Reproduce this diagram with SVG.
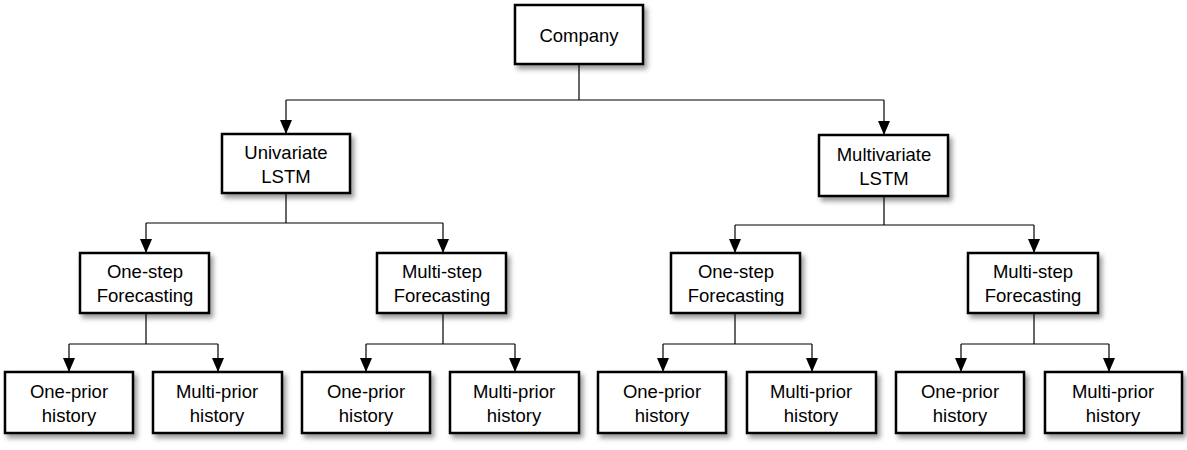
<svg xmlns="http://www.w3.org/2000/svg" width="1187" height="450" viewBox="0 0 1187 450">
<defs>
<filter id="sh" x="-20%" y="-20%" width="140%" height="150%">
<feDropShadow dx="3" dy="4" stdDeviation="2.5" flood-color="#000" flood-opacity="0.4"/>
</filter>
<marker id="ar" viewBox="0 0 14 12" refX="14" refY="6" markerWidth="14" markerHeight="12" markerUnits="userSpaceOnUse" orient="auto">
<path d="M0,0 L14,6 L0,12 Z" fill="#000"/>
</marker>
</defs>
<style>
.box{fill:#fff;stroke:#000;stroke-width:2.5;filter:url(#sh)}
.t{font-family:"Liberation Sans",Arial,sans-serif;font-size:18.5px;fill:#000;text-anchor:middle}
.c{fill:none;stroke:#000;stroke-width:1.2}
.a{fill:none;stroke:#000;stroke-width:1.2;marker-end:url(#ar)}
</style>
<g id="connectors">
<path class="c" d="M579,64 V100 M286,100 H884"/>
<path class="a" d="M286,100 V134"/>
<path class="a" d="M884,100 V135"/>
<path class="c" d="M286,193 V223 M146,223 H443"/>
<path class="a" d="M146,223 V253"/>
<path class="a" d="M443,223 V253"/>
<path class="c" d="M884,196 V225 M735,225 H1034"/>
<path class="a" d="M735,225 V253"/>
<path class="a" d="M1034,225 V253"/>
<path class="c" d="M146,313 V344 M69,344 H218"/>
<path class="a" d="M69,344 V372"/>
<path class="a" d="M218,344 V372"/>
<path class="c" d="M443,313 V344 M366,344 H515"/>
<path class="a" d="M366,344 V372"/>
<path class="a" d="M515,344 V372"/>
<path class="c" d="M735,313 V344 M663,344 H812"/>
<path class="a" d="M663,344 V372"/>
<path class="a" d="M812,344 V372"/>
<path class="c" d="M1034,313 V344 M961,344 H1109"/>
<path class="a" d="M961,344 V372"/>
<path class="a" d="M1109,344 V372"/>
</g>
<g id="company"><rect class="box" x="515" y="5" width="128" height="59"/><text class="t" x="579" y="42">Company</text></g>
<g id="univariate"><rect class="box" x="222" y="134" width="128" height="59"/><text class="t" x="286" y="159">Univariate</text><text class="t" x="286" y="183">LSTM</text></g>
<g id="multivariate"><rect class="box" x="819" y="135" width="129" height="61"/><text class="t" x="884" y="161">Multivariate</text><text class="t" x="884" y="185">LSTM</text></g>
<g id="u-onestep"><rect class="box" x="80" y="253" width="129" height="60"/><text class="t" x="145" y="278">One-step</text><text class="t" x="145" y="302">Forecasting</text></g>
<g id="u-multistep"><rect class="box" x="377" y="253" width="129" height="60"/><text class="t" x="442" y="278">Multi-step</text><text class="t" x="442" y="302">Forecasting</text></g>
<g id="m-onestep"><rect class="box" x="671" y="253" width="129" height="60"/><text class="t" x="736" y="278">One-step</text><text class="t" x="736" y="302">Forecasting</text></g>
<g id="m-multistep"><rect class="box" x="968" y="253" width="130" height="60"/><text class="t" x="1033" y="278">Multi-step</text><text class="t" x="1033" y="302">Forecasting</text></g>
<g id="leaf1"><rect class="box" x="5" y="372" width="128" height="61"/><text class="t" x="69" y="398">One-prior</text><text class="t" x="69" y="422">history</text></g>
<g id="leaf2"><rect class="box" x="153" y="372" width="129" height="61"/><text class="t" x="217" y="398">Multi-prior</text><text class="t" x="217" y="422">history</text></g>
<g id="leaf3"><rect class="box" x="302" y="372" width="128" height="61"/><text class="t" x="366" y="398">One-prior</text><text class="t" x="366" y="422">history</text></g>
<g id="leaf4"><rect class="box" x="450" y="372" width="129" height="61"/><text class="t" x="514" y="398">Multi-prior</text><text class="t" x="514" y="422">history</text></g>
<g id="leaf5"><rect class="box" x="598" y="372" width="128" height="61"/><text class="t" x="662" y="398">One-prior</text><text class="t" x="662" y="422">history</text></g>
<g id="leaf6"><rect class="box" x="747" y="372" width="129" height="61"/><text class="t" x="811" y="398">Multi-prior</text><text class="t" x="811" y="422">history</text></g>
<g id="leaf7"><rect class="box" x="896" y="372" width="128" height="61"/><text class="t" x="960" y="398">One-prior</text><text class="t" x="960" y="422">history</text></g>
<g id="leaf8"><rect class="box" x="1045" y="372" width="137" height="61"/><text class="t" x="1113" y="398">Multi-prior</text><text class="t" x="1113" y="422">history</text></g>
</svg>
